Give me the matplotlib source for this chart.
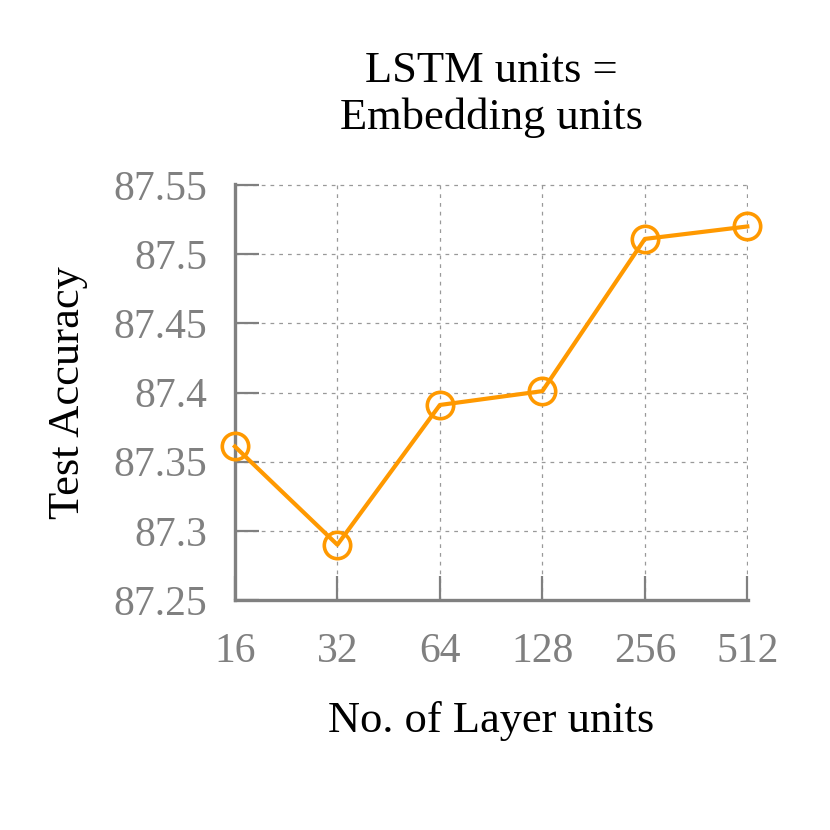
import matplotlib.pyplot as plt

# data
units = ['16', '32', '64', '128', '256', '512']
acc = [87.361, 87.290, 87.391, 87.401, 87.511, 87.520]
yticks = [87.25, 87.3, 87.35, 87.4, 87.45, 87.5, 87.55]
ytick_labels = ['87.25', '87.3', '87.35', '87.4', '87.45', '87.5', '87.55']

plt.rcParams['font.family'] = ['Liberation Serif', 'DejaVu Serif']
gray = '#808080'

fig = plt.figure(figsize=(8.3, 8.3), dpi=100)
ax = fig.add_axes([0.283, 0.277, 0.618, 0.501])

x = list(range(len(units)))
ax.plot(x, acc, color='#ff9900', lw=3, marker='o', ms=19,
        mfc='none', mec='#ff9900', mew=2.6, clip_on=False, zorder=3)

# tiny margin so the last grid lines are not clipped in half
ax.set_xlim(0, len(units) - 1 + 0.005)
ax.set_ylim(87.25, 87.55 + 0.0005)
ax.set_xticks(x)
ax.set_xticklabels(units)
ax.set_yticks(yticks)
ax.set_yticklabels(ytick_labels)

for s in ['top', 'right']:
    ax.spines[s].set_visible(False)
for s in ['left', 'bottom']:
    ax.spines[s].set_color(gray)
    ax.spines[s].set_linewidth(2.4)

ax.tick_params(direction='in', length=17, width=1.6, color=gray,
               labelcolor=gray, labelsize=30)
ax.tick_params(axis='y', pad=20)
ax.tick_params(axis='x', pad=23)

ax.grid(True, color='#999999', linestyle=(0, (3, 4)), linewidth=0.9)

ax.set_title('LSTM units =\nEmbedding units', fontsize=32, pad=40, linespacing=1.2)
ax.set_xlabel('No. of Layer units', fontsize=32, labelpad=22)
ax.set_ylabel('Test Accuracy', fontsize=32, labelpad=18)

fig.savefig('out.png', dpi=100)
